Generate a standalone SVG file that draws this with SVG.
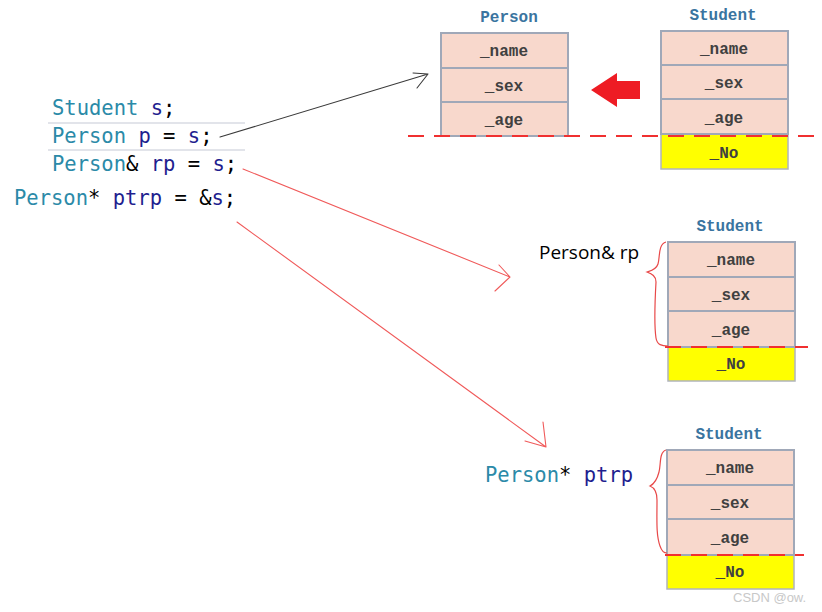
<svg xmlns="http://www.w3.org/2000/svg" width="822" height="612" viewBox="0 0 822 612">
  <style>
    .code { font-family: "DejaVu Sans Mono", "Liberation Mono", monospace; font-size: 20.5px; fill: #000; }
    .type { fill: #2b8aa8; }
    .var { fill: #1f1f8f; }
    .title { font-family: "Liberation Mono", "Courier New", monospace; font-size: 16px; font-weight: bold; fill: #3a74a0; text-anchor: middle; }
    .field { font-family: "Liberation Mono", "Courier New", monospace; font-size: 16px; font-weight: bold; fill: #404040; text-anchor: middle; }
    .cell { fill: #f8d8cc; stroke: #a0a8b8; stroke-width: 2; }
    .extra { fill: #ffff00; stroke: #b0b4bc; stroke-width: 1.5; }
    .cut { stroke: #f03030; stroke-width: 2; stroke-dasharray: 16 10; fill: none; }
    .sep { stroke: #e2e4ea; stroke-width: 2; }
    .brace { fill: none; stroke: #e84848; stroke-width: 1.2; }
    .label { font-family: "Open Sans", "Liberation Sans", sans-serif; font-size: 19px; fill: #000; }
  </style>

  <!-- code lines -->
  <g id="code">
    <line class="sep" x1="48" y1="123" x2="245" y2="123"/>
    <line class="sep" x1="48" y1="150" x2="245" y2="150"/>
    <text class="code" x="52" y="115"><tspan class="type">Student</tspan> <tspan class="var">s</tspan>;</text>
    <text class="code" x="52" y="143"><tspan class="type">Person</tspan> <tspan class="var">p</tspan> = <tspan class="var">s</tspan>;</text>
    <text class="code" x="52" y="171"><tspan class="type">Person</tspan>&amp; <tspan class="var">rp</tspan> = <tspan class="var">s</tspan>;</text>
    <text class="code" x="14" y="205"><tspan class="type">Person</tspan>* <tspan class="var">ptrp</tspan> = &amp;<tspan class="var">s</tspan>;</text>
  </g>

  <!-- Person object -->
  <g id="person">
    <text class="title" x="509" y="22">Person</text>
    <rect class="cell" x="441" y="33" width="127" height="35"/>
    <rect class="cell" x="441" y="68" width="127" height="34"/>
    <rect class="cell" x="441" y="102" width="127" height="34"/>
    <text class="field" x="504" y="56">_name</text>
    <text class="field" x="504" y="91">_sex</text>
    <text class="field" x="504" y="125">_age</text>
  </g>

  <!-- slicing arrow -->
  <g id="slice-arrow">
    <polygon points="591,90 617,73 617,81 640,81 640,99 617,99 617,107" fill="#ee1c24"/>
  </g>

  <!-- Student object (source) -->
  <g id="student-top">
    <text class="title" x="723" y="20">Student</text>
    <rect class="extra" x="661" y="134" width="127" height="35"/>
    <rect class="cell" x="661" y="31" width="127" height="34"/>
    <rect class="cell" x="661" y="65" width="127" height="34"/>
    <rect class="cell" x="661" y="99" width="127" height="35"/>
    <text class="field" x="724" y="54">_name</text>
    <text class="field" x="724" y="88">_sex</text>
    <text class="field" x="724" y="123">_age</text>
    <text class="field" x="724" y="158">_No</text>
  </g>
  <line id="cut-top" class="cut" x1="408" y1="136" x2="822" y2="136"/>

  <!-- Student object seen through a reference -->
  <g id="student-ref">
    <text class="title" x="730" y="231">Student</text>
    <rect class="extra" x="668" y="347" width="127" height="34"/>
    <rect class="cell" x="668" y="242" width="127" height="35"/>
    <rect class="cell" x="668" y="277" width="127" height="34"/>
    <rect class="cell" x="668" y="311" width="127" height="36"/>
    <text class="field" x="731" y="265">_name</text>
    <text class="field" x="731" y="300">_sex</text>
    <text class="field" x="731" y="335">_age</text>
    <text class="field" x="731" y="369">_No</text>
    <line class="cut" x1="665" y1="347" x2="808" y2="347"/>
    <path class="brace" d="M666,242 C658,244 660,258 658,264 C656,270 650,271 647,272 C652,274 656,276 656,282 C655,300 654,325 656,338 C657,345 662,346 668,346"/>
    <text class="label" x="539" y="259">Person&amp; rp</text>
  </g>

  <!-- Student object seen through a pointer -->
  <g id="student-ptr">
    <text class="title" x="729" y="439">Student</text>
    <rect class="extra" x="667" y="555" width="127" height="34"/>
    <rect class="cell" x="667" y="450" width="127" height="35"/>
    <rect class="cell" x="667" y="485" width="127" height="34"/>
    <rect class="cell" x="667" y="519" width="127" height="36"/>
    <text class="field" x="730" y="473">_name</text>
    <text class="field" x="730" y="508">_sex</text>
    <text class="field" x="730" y="543">_age</text>
    <text class="field" x="730" y="577">_No</text>
    <line class="cut" x1="665" y1="555" x2="804" y2="555"/>
    <path class="brace" d="M666,450 C659,452 661,465 659,472 C657,480 654,484 650,486 C655,488 657,492 657,500 C657,520 656,535 660,546 C662,552 664,553 667,553"/>
    <text class="code" x="485" y="482"><tspan class="type">Person</tspan>* <tspan class="var">ptrp</tspan></text>
  </g>

  <!-- connectors -->
  <g id="connectors" fill="none" stroke-linecap="round" stroke-linejoin="round">
    <path d="M220,137 L428,74 M413,73 L428,74 L417,88" stroke="#3a3a3a" stroke-width="1.1"/>
    <path d="M243,169 L510,277 M499,265 L510,277 L495,291" stroke="#f05a5a" stroke-width="1.1"/>
    <path d="M237,222 L546,447 M543,422 L546,447 L525,441" stroke="#f05a5a" stroke-width="1.1"/>
  </g>

  <text x="733" y="602" font-family="Liberation Sans, sans-serif" font-size="13" fill="#c8c8c8">CSDN @ow.</text>
</svg>
